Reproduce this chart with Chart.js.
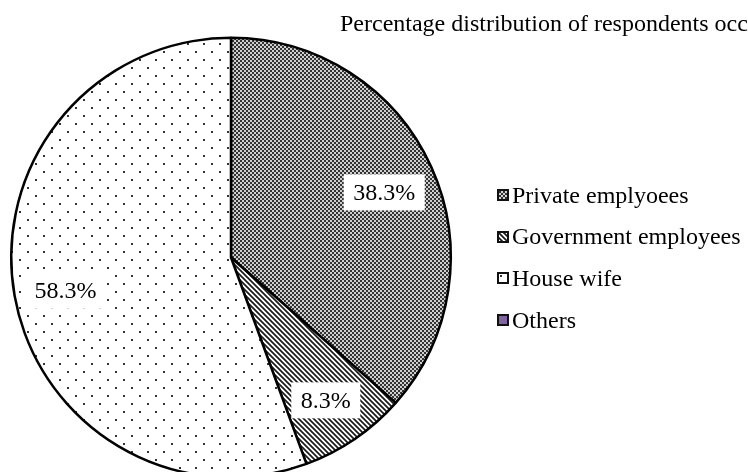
<!DOCTYPE html>
<html>
<head>
<meta charset="utf-8">
<script src="https://cdn.jsdelivr.net/npm/chart.js@4.4.0/dist/chart.umd.min.js"></script>
<style>
  html, body { margin: 0; padding: 0; background: #fff; }
  #wrap { position: relative; width: 748px; height: 472px; overflow: hidden; background: #fff; }
  #pie { position: absolute; left: 0; top: 0; }
  #title { position: absolute; left: 340px; top: 10px; font: 24px "Liberation Serif", "Times New Roman", serif; white-space: nowrap; color: #000; }
  #legend { position: absolute; left: 497px; top: 0; font: 24px "Liberation Serif", "Times New Roman", serif; color: #000; }
  .item { position: absolute; left: 0; height: 30px; display: flex; align-items: center; white-space: nowrap; }
  .item canvas { margin-right: 3px; }
</style>
</head>
<body>
<div id="wrap">
  <canvas id="pie" width="748" height="500"></canvas>
  <div id="title">Percentage distribution of respondents occupation</div>
  <div id="legend"></div>
</div>
<script>
const categories = ['Private emplyoees', 'Government employees', 'House wife', 'Others'];
const shares = [38.3, 8.3, 58.3, 0];
const fills = ['checker', 'hatch', 'dots', 'solid'];

// small tiles used as canvas patterns for the slices
function makeTile(kind) {
    const c = document.createElement('canvas');
    const g = c.getContext('2d');
    if (kind === 'checker') {
        c.width = 4; c.height = 4;
        g.fillStyle = '#cfcfcf';
        g.fillRect(0, 0, 4, 4);
        g.fillStyle = '#333';
        g.fillRect(0, 0, 2, 2);
        g.fillRect(2, 2, 2, 2);
    } else if (kind === 'hatch') {
        c.width = 5; c.height = 5;
        g.fillStyle = '#fff';
        g.fillRect(0, 0, 5, 5);
        g.strokeStyle = '#1a1a1a';
        g.lineWidth = 1.7;
        g.beginPath();
        g.moveTo(-1, -1); g.lineTo(6, 6);
        g.moveTo(-6, -1); g.lineTo(1, 6);
        g.moveTo(4, -1); g.lineTo(11, 6);
        g.stroke();
    } else if (kind === 'dots') {
        c.width = 16; c.height = 16;
        g.fillStyle = '#fff';
        g.fillRect(0, 0, 16, 16);
        g.fillStyle = '#333';
        g.fillRect(3, 3, 2, 2);
        g.fillRect(11, 11, 2, 2);
    } else {
        c.width = 2; c.height = 2;
        g.fillStyle = '#8064a2';
        g.fillRect(0, 0, 2, 2);
    }
    return c;
}

const ctx = document.getElementById('pie').getContext('2d');
const patterns = fills.map(k => ctx.createPattern(makeTile(k), 'repeat'));

// percentage labels on white boxes, placed along each slice's mid angle
const sliceLabels = {
    id: 'sliceLabels',
    afterDatasetsDraw(chart) {
        const c = chart.ctx;
        const arcs = chart.getDatasetMeta(0).data;
        c.save();
        c.font = '24px "Liberation Serif", "Times New Roman", serif';
        c.textAlign = 'center';
        c.textBaseline = 'middle';
        arcs.forEach((arc, i) => {
            if (!shares[i]) return;
            const p = arc.getProps(['x', 'y', 'startAngle', 'endAngle', 'outerRadius'], true);
            const mid = (p.startAngle + p.endAngle) / 2;
            const r = p.outerRadius * 0.765;
            const x = p.x + Math.cos(mid) * r;
            const y = p.y + Math.sin(mid) * r + 4;
            const txt = shares[i].toFixed(1) + '%';
            const w = c.measureText(txt).width + 19;
            const h = 36;
            c.fillStyle = '#fff';
            c.fillRect(x - w / 2, y - h / 2, w, h);
            c.fillStyle = '#000';
            c.fillText(txt, x, y + 1);
        });
        c.restore();
    }
};

new Chart(ctx, {
    type: 'pie',
    data: {
        labels: categories,
        datasets: [{
            data: shares,
            backgroundColor: patterns,
            borderColor: '#000',
            borderWidth: 2.5
        }]
    },
    options: {
        responsive: false,
        animation: false,
        layout: { padding: { left: 10, top: 36, right: 296, bottom: 21 } },
        plugins: {
            legend: { display: false },
            tooltip: { enabled: false }
        }
    },
    plugins: [sliceLabels]
});

// legend built next to the pie
const legend = document.getElementById('legend');
categories.forEach((name, i) => {
    const row = document.createElement('div');
    row.className = 'item';
    row.style.top = (180 + i * 41.7) + 'px';
    const sw = document.createElement('canvas');
    sw.width = 12; sw.height = 12;
    const g = sw.getContext('2d');
    g.fillStyle = g.createPattern(makeTile(fills[i]), 'repeat');
    g.fillRect(0, 0, 12, 12);
    g.strokeStyle = '#111';
    g.lineWidth = 2;
    g.strokeRect(1, 1, 10, 10);
    row.appendChild(sw);
    row.appendChild(document.createTextNode(name));
    legend.appendChild(row);
});
</script>
</body>
</html>
